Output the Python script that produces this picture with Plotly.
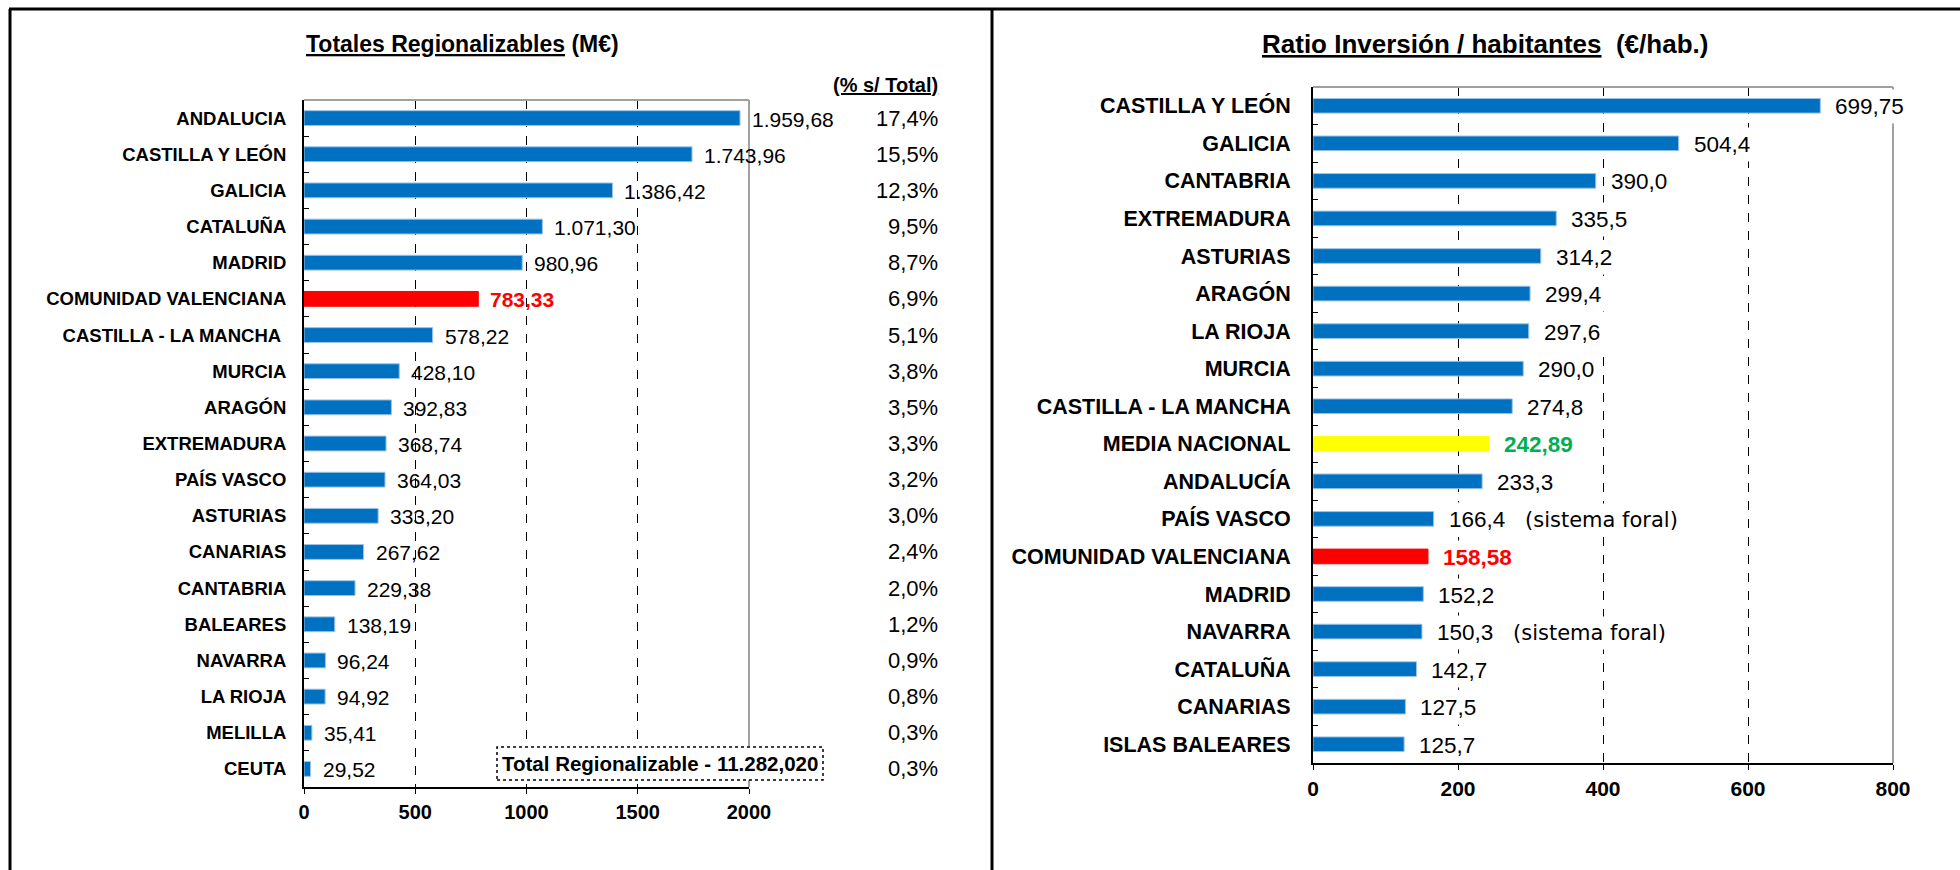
import plotly.graph_objects as go

W, H = 1960, 870

# ---------------- DATA ----------------
regions_total = [
    "ANDALUCIA", "CASTILLA Y LEÓN", "GALICIA", "CATALUÑA", "MADRID",
    "COMUNIDAD VALENCIANA", "CASTILLA - LA MANCHA\u00a0", "MURCIA", "ARAGÓN",
    "EXTREMADURA", "PAÍS VASCO", "ASTURIAS", "CANARIAS", "CANTABRIA",
    "BALEARES", "NAVARRA", "LA RIOJA", "MELILLA", "CEUTA",
]
totals_meur = [
    1959.68, 1743.96, 1386.42, 1071.30, 980.96,
    783.33, 578.22, 428.10, 392.83,
    368.74, 364.03, 333.20, 267.62, 229.38,
    138.19, 96.24, 94.92, 35.41, 29.52,
]
totals_labels = [
    "1.959,68", "1.743,96", "1.386,42", "1.071,30", "980,96",
    "783,33", "578,22", "428,10", "392,83",
    "368,74", "364,03", "333,20", "267,62", "229,38",
    "138,19", "96,24", "94,92", "35,41", "29,52",
]
totals_share = [
    "17,4%", "15,5%", "12,3%", "9,5%", "8,7%",
    "6,9%", "5,1%", "3,8%", "3,5%",
    "3,3%", "3,2%", "3,0%", "2,4%", "2,0%",
    "1,2%", "0,9%", "0,8%", "0,3%", "0,3%",
]
total_text = "Total Regionalizable - 11.282,020"

regions_ratio = [
    "CASTILLA Y LEÓN", "GALICIA", "CANTABRIA", "EXTREMADURA", "ASTURIAS",
    "ARAGÓN", "LA RIOJA", "MURCIA", "CASTILLA - LA MANCHA", "MEDIA NACIONAL",
    "ANDALUCÍA", "PAÍS VASCO", "COMUNIDAD VALENCIANA", "MADRID", "NAVARRA",
    "CATALUÑA", "CANARIAS", "ISLAS BALEARES",
]
ratio_eur_hab = [
    699.75, 504.4, 390.0, 335.5, 314.2,
    299.4, 297.6, 290.0, 274.8, 242.89,
    233.3, 166.4, 158.58, 152.2, 150.3,
    142.7, 127.5, 125.7,
]
ratio_labels = [
    "699,75", "504,4", "390,0", "335,5", "314,2",
    "299,4", "297,6", "290,0", "274,8", "242,89",
    "233,3", "166,4", "158,58", "152,2", "150,3",
    "142,7", "127,5", "125,7",
]
foral_regions = ["PAÍS VASCO", "NAVARRA"]

x_ticks_total = [0, 500, 1000, 1500, 2000]
x_ticks_ratio = [0, 200, 400, 600, 800]

# ---------------- STYLE ----------------
BLUE, RED, YELLOW, GREEN = "#0070C0", "#FF0000", "#FFFF00", "#00B050"
EDGE = "#9DC3E6"
GRAY = "#A0A0A0"
FONT = "Liberation Sans, Arial, Helvetica, sans-serif"


def px_x(p):
    return p / W


def px_y(p):
    return 1 - p / H


def bar_color(name):
    if name.startswith("COMUNIDAD VALENCIANA"):
        return RED
    if name == "MEDIA NACIONAL":
        return YELLOW
    return BLUE


def edge_color(name):
    c = bar_color(name)
    return EDGE if c == BLUE else c


fig = go.Figure()

fig.add_trace(go.Bar(
    x=totals_meur, y=regions_total, orientation="h",
    xaxis="x", yaxis="y", width=0.41,
    marker=dict(color=[bar_color(n) for n in regions_total],
                line=dict(color=[edge_color(n) for n in regions_total], width=1)),
    hoverinfo="skip", showlegend=False,
))
fig.add_trace(go.Bar(
    x=ratio_eur_hab, y=regions_ratio, orientation="h",
    xaxis="x2", yaxis="y2", width=0.39,
    marker=dict(color=[bar_color(n) for n in regions_ratio],
                line=dict(color=[edge_color(n) for n in regions_ratio], width=1)),
    hoverinfo="skip", showlegend=False,
))

xcommon = dict(
    ticks="outside", ticklen=5, tickcolor="black", tickwidth=1,
    showline=True, linecolor="black", linewidth=2,
    showgrid=True, gridcolor="black", griddash="dash", gridwidth=1,
    zeroline=False, ticklabelstandoff=1, automargin=False,
)
ycommon = dict(
    type="category", autorange="reversed",
    ticks="inside", tickson="boundaries", ticklen=5, tickcolor="black",
    showline=True, linecolor="black", linewidth=2,
    showgrid=False, zeroline=False, automargin=False,
)

fig.update_layout(
    width=W, height=H,
    margin=dict(l=0, r=0, t=0, b=0, autoexpand=False),
    paper_bgcolor="white", plot_bgcolor="white",
    xaxis=dict(domain=[px_x(304), px_x(749)], anchor="y",
               range=[0, 2000], tickvals=x_ticks_total,
               tickfont=dict(family=FONT, size=20, color="black", weight="bold"),
               **xcommon),
    yaxis=dict(domain=[px_y(787), px_y(100)], anchor="x",
               ticklabelstandoff=12,
               tickfont=dict(family=FONT, size=18.5, color="black", weight="bold"),
               **ycommon),
    xaxis2=dict(domain=[px_x(1313), px_x(1893)], anchor="y2",
                range=[0, 800], tickvals=x_ticks_ratio,
                tickfont=dict(family=FONT, size=21, color="black", weight="bold"),
                **xcommon),
    yaxis2=dict(domain=[px_y(763), px_y(87)], anchor="x2",
                ticklabelstandoff=16,
                tickfont=dict(family=FONT, size=21.5, color="black", weight="bold"),
                **ycommon),
)

shapes = []
# gray top / right borders of both plot areas
for xr, yr in (("x domain", "y domain"), ("x2 domain", "y2 domain")):
    shapes.append(dict(type="line", xref=xr, yref=yr, x0=0, x1=1, y0=1, y1=1,
                       line=dict(color=GRAY, width=2), layer="above"))
    shapes.append(dict(type="line", xref=xr, yref=yr, x0=1, x1=1, y0=0, y1=1,
                       line=dict(color=GRAY, width=2), layer="above"))
# outer frames
shapes.append(dict(type="line", xref="paper", yref="paper", x0=px_x(9), x1=1,
                   y0=px_y(9), y1=px_y(9), line=dict(color="black", width=3)))
shapes.append(dict(type="line", xref="paper", yref="paper", x0=px_x(10), x1=px_x(10),
                   y0=0, y1=px_y(9), line=dict(color="black", width=3)))
shapes.append(dict(type="line", xref="paper", yref="paper", x0=px_x(992), x1=px_x(992),
                   y0=0, y1=px_y(9), line=dict(color="black", width=3)))
# dashed total box
shapes.append(dict(type="rect", xref="paper", yref="paper",
                   x0=px_x(497), x1=px_x(823), y0=px_y(780), y1=px_y(747),
                   line=dict(color="black", width=1.5, dash="dot"),
                   fillcolor="white", layer="above"))
fig.update_layout(shapes=shapes)

ann = []
# titles
ann.append(dict(xref="paper", yref="paper", x=px_x(462), y=px_y(44),
                text="<u>Totales Regionalizables</u> (M€)", showarrow=False,
                xanchor="center", yanchor="middle",
                font=dict(family=FONT, size=23, color="black", weight="bold")))
ann.append(dict(xref="paper", yref="paper", x=px_x(1485), y=px_y(44),
                text="<u>Ratio Inversión / habitantes</u>  (€/hab.)", showarrow=False,
                xanchor="center", yanchor="middle",
                font=dict(family=FONT, size=26, color="black", weight="bold")))
ann.append(dict(xref="paper", yref="paper", x=px_x(940), y=px_y(85),
                text="<u>(% s/ Total)</u>", showarrow=False,
                xanchor="right", yanchor="middle",
                font=dict(family=FONT, size=20, color="black", weight="bold")))
ann.append(dict(xref="paper", yref="paper", x=px_x(660), y=px_y(763.5),
                text=total_text, showarrow=False,
                xanchor="center", yanchor="middle",
                font=dict(family=FONT, size=20.5, color="black", weight="bold")))

# left value labels and shares
for n, v, lab, sh in zip(regions_total, totals_meur, totals_labels, totals_share):
    hl = bar_color(n) == RED
    ann.append(dict(xref="x", yref="y", x=v, y=n, text=lab, showarrow=False,
                    xanchor="left", yanchor="middle", xshift=10, yshift=-1,
                    font=dict(family=FONT, size=21,
                              color=RED if hl else "black",
                              weight="bold" if hl else "normal")))
    ann.append(dict(xref="paper", yref="y", x=px_x(940), y=n, text=sh,
                    showarrow=False, xanchor="right", yanchor="middle",
                    font=dict(family=FONT, size=22, color="black")))

# right value labels (white boxes like the original)
for n, v, lab in zip(regions_ratio, ratio_eur_hab, ratio_labels):
    c = bar_color(n)
    color = RED if c == RED else GREEN if c == YELLOW else "black"
    bold = c != BLUE
    ann.append(dict(xref="x2", yref="y2", x=v, y=n, text=lab, showarrow=False,
                    xanchor="left", yanchor="middle", xshift=10, yshift=-1,
                    bgcolor="white", borderpad=4,
                    font=dict(family=FONT, size=22.5, color=color,
                              weight="bold" if bold else "normal")))
    if n in foral_regions:
        ann.append(dict(xref="x2", yref="y2", x=v, y=n, text="(sistema foral)",
                        showarrow=False, xanchor="left", yanchor="middle",
                        xshift=86, yshift=-1, bgcolor="white", borderpad=4,
                        font=dict(family="DejaVu Sans, Open Sans, sans-serif",
                                  size=21, color="black")))

fig.update_layout(annotations=ann)

fig.write_html("out.html", config={"displayModeBar": False},
               post_script="document.body.style.margin='0px';")
